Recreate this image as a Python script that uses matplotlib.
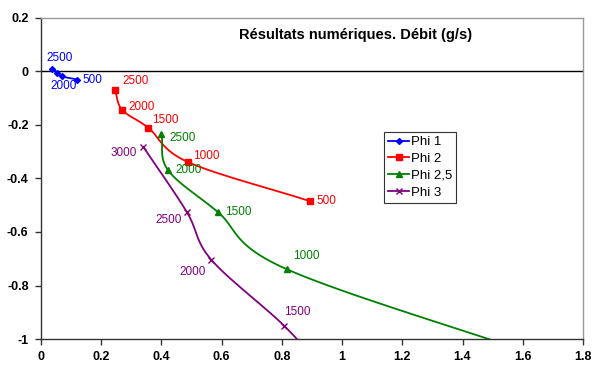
import numpy as np
import matplotlib
matplotlib.use('Agg')
import matplotlib.pyplot as plt

plt.rcParams['font.family'] = ['Liberation Sans', 'DejaVu Sans']

# ---- data ----
phi1_x = [0.037, 0.053, 0.07, 0.12]
phi1_y = [0.011, -0.004, -0.018, -0.03]
phi1_lab = ['2500', '', '2000', '500']

phi2_x = [0.246, 0.27, 0.357, 0.487, 0.894]
phi2_y = [-0.071, -0.144, -0.211, -0.338, -0.485]
phi2_lab = ['2500', '2000', '1500', '1000', '500']

phi25_x = [0.40, 0.422, 0.587, 0.816, 1.70]
phi25_y = [-0.235, -0.369, -0.525, -0.739, -1.08]
phi25_lab = ['2500', '2000', '1500', '1000', '']

phi3_x = [0.34, 0.484, 0.565, 0.807, 0.95]
phi3_y = [-0.282, -0.525, -0.703, -0.95, -1.13]
phi3_lab = ['3000', '2500', '2000', '1500', '']

xticks = [0, 0.2, 0.4, 0.6, 0.8, 1, 1.2, 1.4, 1.6, 1.8]
yticks = [-1, -0.8, -0.6, -0.4, -0.2, 0, 0.2]

# label offsets in pixels (dx, dy, ha)
phi1_off = [(7, 11, 'center'), (0, 0, 'left'), (2, -10, 'center'), (5, 0, 'left')]
phi2_off = [(7, 9, 'left'), (6, 3, 'left'), (4, 8, 'left'), (5, 6, 'left'), (6, 0, 'left')]
phi25_off = [(8, -4, 'left'), (7, 0, 'left'), (7, 0, 'left'), (6, 13, 'left'), (0, 0, 'left')]
phi3_off = [(-6, -6, 'right'), (-5, -8, 'right'), (-5, -12, 'right'), (0, 14, 'left'), (0, 0, 'left')]


def smooth(x, y, n=30):
    # catmull-rom, close to Excel smoothed lines
    x = np.asarray(x, float); y = np.asarray(y, float)
    px = np.concatenate([[2*x[0]-x[1]], x, [2*x[-1]-x[-2]]])
    py = np.concatenate([[2*y[0]-y[1]], y, [2*y[-1]-y[-2]]])
    xs, ys = [], []
    t = np.linspace(0, 1, n)
    for i in range(1, len(px)-2):
        for p, out in ((px, xs), (py, ys)):
            p0, p1, p2, p3 = p[i-1], p[i], p[i+1], p[i+2]
            out.extend(0.5*((2*p1) + (-p0+p2)*t + (2*p0-5*p1+4*p2-p3)*t**2
                            + (-p0+3*p1-3*p2+p3)*t**3))
    return np.array(xs), np.array(ys)


fig = plt.figure(figsize=(5.92, 3.65), dpi=100)
ax = fig.add_axes([41/592, 26/365, 542/592, 321/365])

series = [
    (phi1_x, phi1_y, phi1_lab, phi1_off, '#0000FF', 'D', 3, 'Phi 1'),
    (phi2_x, phi2_y, phi2_lab, phi2_off, '#FF0000', 's', 4, 'Phi 2'),
    (phi25_x, phi25_y, phi25_lab, phi25_off, '#008000', '^', 5, 'Phi 2,5'),
    (phi3_x, phi3_y, phi3_lab, phi3_off, '#800080', 'x', 5, 'Phi 3'),
]

for xs, ys, labs, offs, col, mk, ms, name in series:
    sx, sy = smooth(xs, ys)
    ax.plot(sx, sy, color=col, lw=1.3, zorder=3)
    ax.plot(xs, ys, ls='none', marker=mk, color=col, ms=ms, mew=1.0, zorder=4)
    ax.plot([], [], color=col, marker=mk, ms=ms, lw=1.3, label=name)
    for x, y, lab, (dx, dy, ha) in zip(xs, ys, labs, offs):
        if lab:
            ax.annotate(lab, (x, y), xytext=(dx, dy), textcoords='offset pixels',
                        ha=ha, va='center', color=col, fontsize=8.5, zorder=5)

ax.axhline(0, color='black', lw=1.0, zorder=2)

ax.set_xlim(0, 1.8)
ax.set_ylim(-1, 0.2)
ax.set_xticks(xticks)
ax.set_yticks(yticks)
ax.set_xticklabels(['%g' % v for v in xticks], fontweight='bold', fontsize=9)
ax.set_yticklabels(['%g' % v for v in yticks], fontweight='bold', fontsize=9)
ax.tick_params(direction='out', length=4, width=1, color='#333333', pad=5)

for s in ('top', 'right'):
    ax.spines[s].set_color('#999999')
    ax.spines[s].set_linewidth(1.0)
for s in ('left', 'bottom'):
    ax.spines[s].set_color('#333333')
    ax.spines[s].set_linewidth(1.0)

ax.text(0.581, 0.947, u'Résultats numériques. Débit (g/s)', transform=ax.transAxes,
        ha='center', va='center', fontsize=10.5, fontweight='bold')

leg = ax.legend(loc='upper left', bbox_to_anchor=((384-41)/542, (339-132)/321),
                fontsize=9.5, frameon=True, fancybox=False, edgecolor='black',
                handlelength=1.6, handletextpad=0.15, borderpad=0.3,
                labelspacing=0.35, borderaxespad=0)
leg.get_frame().set_linewidth(0.8)

fig.savefig('out.png', dpi=100)
